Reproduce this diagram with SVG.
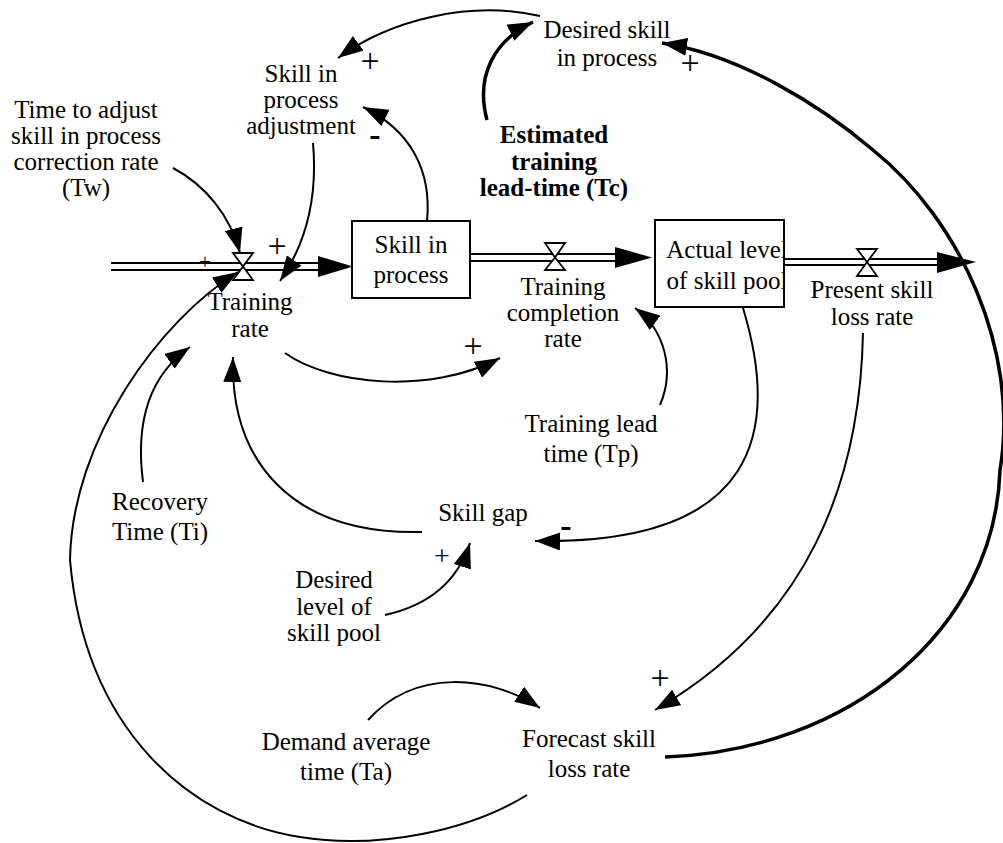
<svg xmlns="http://www.w3.org/2000/svg" width="1003" height="843" viewBox="0 0 1003 843">
<style>
text{font-family:"Liberation Serif","Times New Roman",serif;font-size:25px;fill:#000;text-anchor:middle}
.b{font-weight:bold}
.sg{font-size:34px}
.sm{font-size:22px}
.md{font-size:28px}
.box{fill:#fff;stroke:#000;stroke-width:2}
.fl{stroke:#000;stroke-width:2;fill:none}
.ah{fill:#000;stroke:none}
.valve{fill:#fff;stroke:#000;stroke-width:1.8;stroke-linejoin:miter}
.c{fill:none;stroke:#000;stroke-width:2;marker-end:url(#arr)}
.ct{fill:none;stroke:#000;stroke-width:3.5;marker-end:url(#arr)}
</style>
<defs>
<marker id="arr" markerUnits="userSpaceOnUse" markerWidth="26" markerHeight="18" refX="25" refY="9" orient="auto">
<path d="M0,0 L25,9 L0,18 z" fill="#000"/>
</marker>
<clipPath id="clipActual"><rect x="655" y="220" width="129" height="87"/></clipPath>
</defs>
<rect width="1003" height="843" fill="#fff"/>

<g id="flows">
<line class="fl" x1="111" y1="263" x2="320" y2="263"/>
<line class="fl" x1="111" y1="270" x2="320" y2="270"/>
<polygon class="ah" points="318,256 353,266.5 318,277"/>
<line class="fl" x1="470" y1="254" x2="617" y2="254"/>
<line class="fl" x1="470" y1="261" x2="617" y2="261"/>
<polygon class="ah" points="615,247 652,257.5 615,268"/>
<line class="fl" x1="784" y1="259" x2="940" y2="259"/>
<line class="fl" x1="784" y1="265" x2="940" y2="265"/>
<polygon class="ah" points="937,252 976,262 937,273"/>
</g>

<g id="training-rate">
<polygon class="valve" points="233,253 253,253 243,266.5 253,280 233,280 243,266.5"/>
<text x="250" y="310">Training</text>
<text x="250" y="337">rate</text>
</g>

<g id="training-completion-rate">
<polygon class="valve" points="545,243 565,243 555,257.5 565,270 545,270 555,257.5"/>
<text x="563" y="295">Training</text>
<text x="563" y="321">completion</text>
<text x="563" y="347">rate</text>
</g>

<g id="present-skill-loss-rate">
<polygon class="valve" points="857,249 877,249 867,262 877,276 857,276 867,262"/>
<text x="872" y="298">Present skill</text>
<text x="872" y="325">loss rate</text>
</g>

<g id="skill-in-process">
<rect class="box" x="352" y="221" width="118" height="77"/>
<text x="411" y="253">Skill in</text>
<text x="411" y="283">process</text>
</g>

<g id="actual-level-of-skill-pool">
<rect class="box" x="655" y="220" width="129" height="87"/>
<g clip-path="url(#clipActual)">
<text x="727" y="258">Actual level</text>
<text x="727" y="289">of skill pool</text>
</g>
</g>

<g id="time-to-adjust">
<text x="86" y="118">Time to adjust</text>
<text x="86" y="144">skill in process</text>
<text x="86" y="170">correction rate</text>
<text x="86" y="196">(Tw)</text>
</g>

<g id="skill-in-process-adjustment">
<text x="301" y="82">Skill in</text>
<text x="301" y="108">process</text>
<text x="301" y="134">adjustment</text>
</g>

<g id="desired-skill-in-process">
<text x="607" y="38">Desired skill</text>
<text x="607" y="66">in process</text>
</g>

<g id="estimated-training-lead-time">
<text class="b" x="554" y="143">Estimated</text>
<text class="b" x="554" y="170">training</text>
<text class="b" x="554" y="196">lead-time (Tc)</text>
</g>

<g id="training-lead-time">
<text x="591" y="432">Training lead</text>
<text x="591" y="462">time (Tp)</text>
</g>

<g id="skill-gap">
<text x="483" y="521">Skill gap</text>
</g>

<g id="desired-level-of-skill-pool">
<text x="334" y="588">Desired</text>
<text x="334" y="615">level of</text>
<text x="334" y="641">skill pool</text>
</g>

<g id="recovery-time">
<text x="160" y="510">Recovery</text>
<text x="160" y="540">Time (Ti)</text>
</g>

<g id="demand-average-time">
<text x="346" y="750">Demand average</text>
<text x="346" y="780">time (Ta)</text>
</g>

<g id="forecast-skill-loss-rate">
<text x="589" y="747">Forecast skill</text>
<text x="589" y="777">loss rate</text>
</g>

<g id="connectors">
<path class="c" d="M173,168 C205,185 230,215 240,253"/>
<path class="c" d="M313,143 C318,200 305,245 280,281"/>
<path class="c" d="M427,221 C432,170 410,130 363,107"/>
<path class="c" d="M540,16 C470,0 390,20 338,58"/>
<path class="ct" d="M487,120 C475,75 495,40 533,22"/>
<path class="ct" d="M665,757 C850,750 995,630 1000,470 C1020,350 960,220 873,150 C820,105 740,55 662,43"/>
<path class="c" d="M863,333 C860,480 810,620 655,710"/>
<path class="c" d="M743,308 C780,430 760,545 535,541"/>
<path class="c" d="M660,405 C675,370 665,330 635,308"/>
<path class="c" d="M285,353 C330,385 430,395 500,358"/>
<path class="c" d="M422,532 C290,535 230,460 233,357"/>
<path class="c" d="M143,482 C135,420 150,375 190,347"/>
<path class="c" d="M385,615 C430,605 458,580 470,543"/>
<path class="c" d="M368,720 C415,668 490,675 540,708"/>
<path class="c" d="M527,795 C470,830 380,850 300,837 C190,820 85,730 70,560 C72,440 160,320 238,272"/>
</g>

<g id="polarities">
<text class="sm" x="205" y="269">+</text>
<text class="sg" x="277" y="257">+</text>
<text class="sg" x="370" y="72">+</text>
<text class="sg b" x="375" y="146">-</text>
<text class="sg" x="690" y="74">+</text>
<text class="sg" x="473" y="357">+</text>
<text class="sg b" x="566" y="537">-</text>
<text class="md" x="442" y="565">+</text>
<text class="sg" x="660" y="689">+</text>
</g>
</svg>
